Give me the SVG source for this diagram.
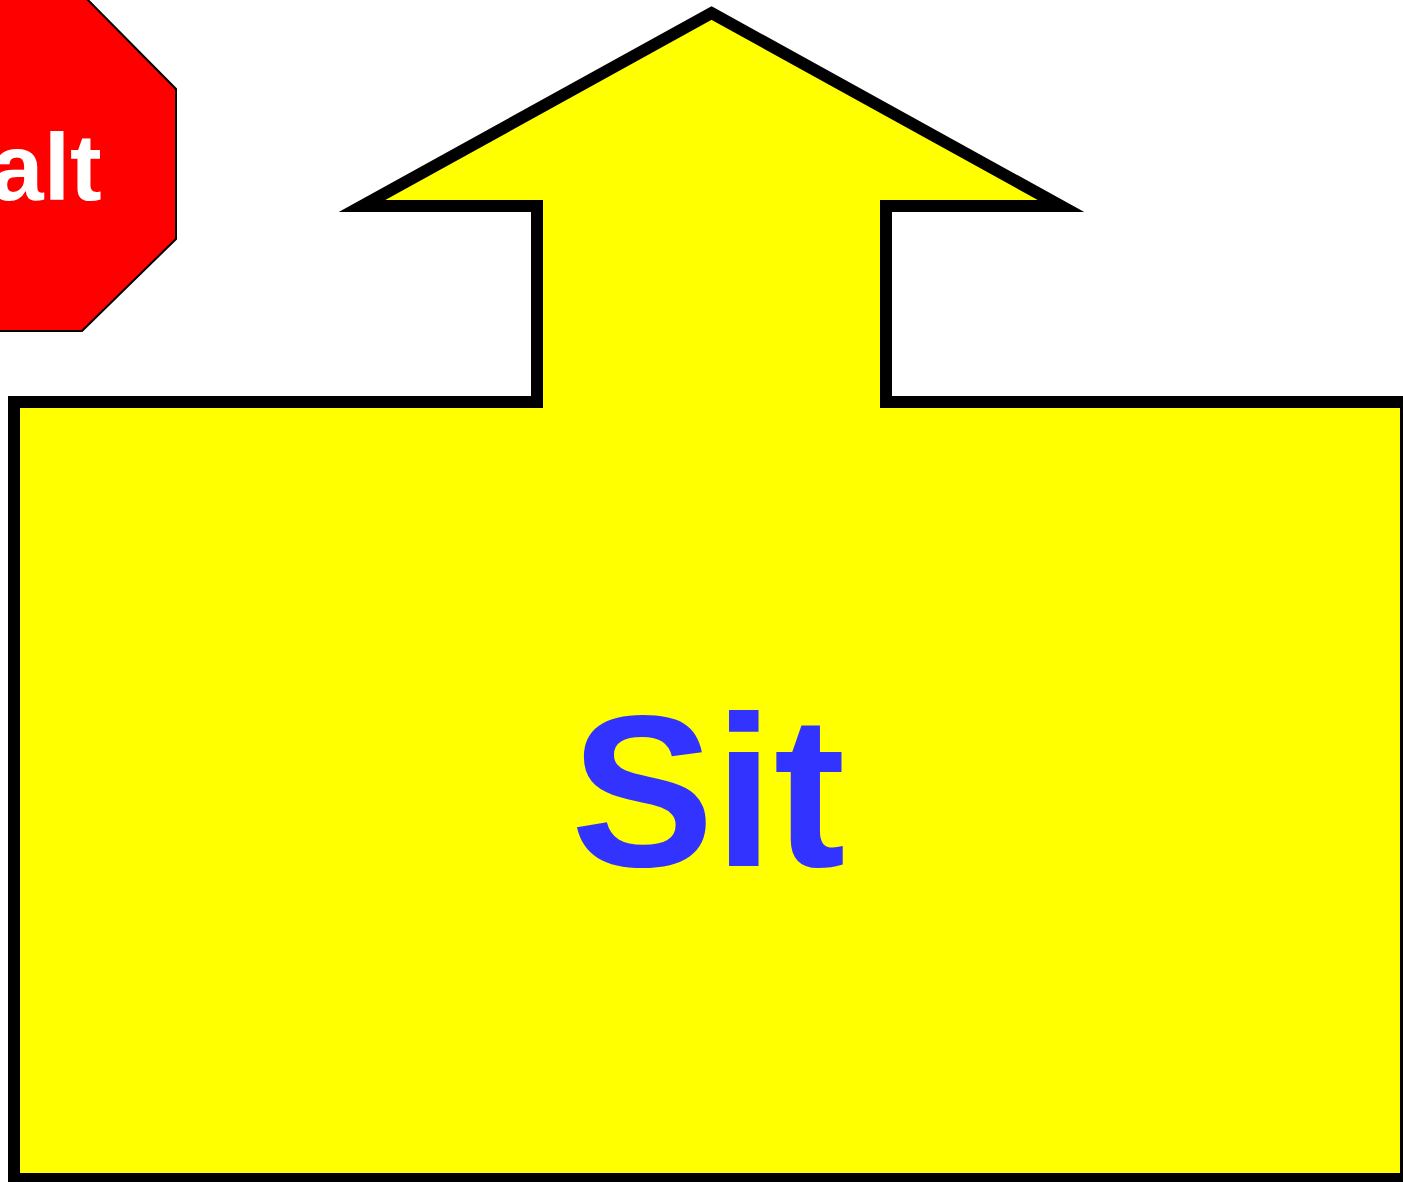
<svg xmlns="http://www.w3.org/2000/svg" width="1403" height="1182" viewBox="0 0 1403 1182">
<style>
.lbl{font-family:"Liberation Sans",Arial,Helvetica,sans-serif;font-weight:bold;text-anchor:middle}
</style>
<rect width="1403" height="1182" fill="#ffffff"/>
<g id="halt">
<polygon points="-60,-3 85,-3 176,89 176,239 82,331 -60,331" fill="#ff0000" stroke="#000000" stroke-width="2"/>
<text class="lbl" x="12" y="200" font-size="95" fill="#ffffff">Halt</text>
</g>
<g id="sit">
<polygon points="711.5,13 1061,206 886,206 886,402 1406,402 1406,1179 14,1179 14,402 537,402 537,206 362,206" fill="#ffff00" stroke="#000000" stroke-width="12" stroke-miterlimit="10"/>
<text class="lbl" x="708" y="866" font-size="215" fill="#3333ff">Sit</text>
</g>
<g id="connectors"/>
</svg>
